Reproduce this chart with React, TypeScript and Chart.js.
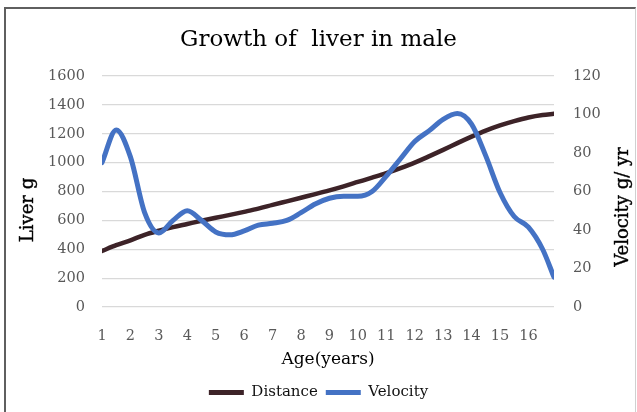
import React, { useEffect, useRef } from "react";
import { Chart, registerables } from "chart.js";

Chart.register(...registerables);

const chartTitle = "Growth of  liver in male";
const xTitle = "Age(years)";
const leftTitle = "Liver g";
const rightTitle = "Velocity g/ yr";
const xTickLabels = [1, 2, 3, 4, 5, 6, 7, 8, 9, 10, 11, 12, 13, 14, 15, 16];
const leftTicks = [0, 200, 400, 600, 800, 1000, 1200, 1400, 1600];
const rightTicks = [0, 20, 40, 60, 80, 100, 120];

const ages = [
  1, 1.5, 2, 2.5, 3, 3.5, 4, 4.5, 5, 5.5, 6, 6.5, 7, 7.5, 8, 8.5, 9, 9.5, 10,
  10.5, 11, 11.5, 12, 12.5, 13, 13.5, 14, 14.5, 15, 15.5, 16, 16.5, 16.9,
];
const distance = [
  388, 428, 462, 500, 528, 553, 575, 597, 618, 638, 659, 681, 707, 732, 757,
  782, 808, 836, 866, 896, 927, 962, 1000, 1043, 1088, 1135, 1180, 1222, 1258,
  1288, 1313, 1330, 1338,
];
const velocity = [
  75, 92, 78, 49, 38.5, 45, 50, 45, 39, 37.5, 39.5, 42.5, 43.5, 45, 49, 53.5,
  56.5, 57.5, 57.5, 60, 68, 77, 86, 91.5, 97.5, 100.5, 95, 78.5, 59.5, 47, 41.5,
  30, 15.5,
];

const BROWN = "#3d2328";
const BLUE = "#4472C4";
const SERIF = '"DejaVu Serif", "Liberation Serif", serif';

const sideTitles = {
  id: "sideTitles",
  afterDraw(chart: any) {
    const { ctx } = chart;
    const left = chart.scales.y;
    const right = chart.scales.y2;
    const cy = chart.height / 2 + 4;
    ctx.save();
    ctx.font = `18px ${SERIF}`;
    ctx.fillStyle = "#000000";
    ctx.strokeStyle = "#000000";
    ctx.lineWidth = 0.4;
    ctx.textAlign = "center";
    ctx.textBaseline = "middle";
    ctx.save();
    ctx.translate(left.left + 28, cy);
    ctx.rotate(-Math.PI / 2);
    ctx.fillText(leftTitle, 0, 0);
    ctx.strokeText(leftTitle, 0, 0);
    ctx.restore();
    ctx.save();
    ctx.translate(right.right - 14, cy - 3);
    ctx.rotate(-Math.PI / 2);
    ctx.fillText(rightTitle, 0, 0);
    ctx.strokeText(rightTitle, 0, 0);
    ctx.restore();
    ctx.restore();
  },
};

export default function App() {
  const ref = useRef<HTMLCanvasElement | null>(null);

  useEffect(() => {
    if (!ref.current) return;
    const chart = new Chart(ref.current, {
      type: "line",
      data: {
        datasets: [
          {
            label: "Distance",
            data: ages.map((a, i) => ({ x: a, y: distance[i] })),
            borderColor: BROWN,
            backgroundColor: BROWN,
            borderWidth: 4.5,
            pointRadius: 0,
            cubicInterpolationMode: "monotone",
            borderCapStyle: "round",
            borderJoinStyle: "round",
            yAxisID: "y",
            order: 2,
          },
          {
            label: "Velocity",
            data: ages.map((a, i) => ({ x: a, y: velocity[i] })),
            borderColor: BLUE,
            backgroundColor: BLUE,
            borderWidth: 5,
            pointRadius: 0,
            cubicInterpolationMode: "monotone",
            borderCapStyle: "round",
            borderJoinStyle: "round",
            yAxisID: "y2",
            order: 1,
          },
        ],
      },
      options: {
        responsive: false,
        animation: false,
        layout: { padding: { left: 0, right: 0, top: 0, bottom: 2 } },
        plugins: {
          tooltip: { enabled: false },
          title: {
            display: true,
            text: chartTitle,
            color: "#000000",
            font: { family: SERIF, size: 23, weight: "normal" },
            padding: { top: 26, bottom: 22.4 },
          },
          legend: {
            position: "bottom",
            labels: {
              boxWidth: 35,
              boxHeight: 5,
              padding: 8,
              color: "#111111",
              font: { family: SERIF, size: 15, weight: "normal" },
              sort: (a: any, b: any) => a.datasetIndex - b.datasetIndex,
              generateLabels: (c: any) =>
                Chart.defaults.plugins.legend.labels
                  .generateLabels(c)
                  .map((it: any) => ({
                    ...it,
                    fillStyle: it.strokeStyle,
                    lineWidth: 0,
                  })),
            },
          },
        },
        scales: {
          x: {
            type: "linear",
            min: ages[0],
            max: ages[ages.length - 1],
            grid: { display: false },
            border: { display: false },
            afterFit: (s: any) => {
              s.height = 70;
            },
            afterBuildTicks: (s: any) => {
              s.ticks = xTickLabels.map((v) => ({ value: v }));
            },
            ticks: {
              autoSkip: false,
              maxRotation: 0,
              padding: 13,
              color: "#595959",
              font: { family: SERIF, size: 14.5 },
              callback: (v: any) => String(v),
            },
            title: {
              display: true,
              text: xTitle,
              color: "#000000",
              font: { family: SERIF, size: 17, weight: "normal" },
              padding: { top: 4, bottom: 7 },
            },
          },
          y: {
            position: "left",
            min: 0,
            max: 1600,
            afterFit: (s: any) => {
              s.width = 102;
            },
            afterBuildTicks: (s: any) => {
              s.ticks = leftTicks.map((v) => ({ value: v }));
            },
            grid: { color: "#d9d9d9", lineWidth: 1.2, drawTicks: false },
            border: { display: false },
            ticks: {
              padding: 17,
              color: "#595959",
              font: { family: SERIF, size: 14.5 },
              callback: (v: any) => String(v),
            },
          },
          y2: {
            position: "right",
            min: 0,
            max: 120,
            afterFit: (s: any) => {
              s.width = 83;
            },
            afterBuildTicks: (s: any) => {
              s.ticks = rightTicks.map((v) => ({ value: v }));
            },
            grid: { display: false, drawTicks: false },
            border: { display: false },
            ticks: {
              padding: 19,
              color: "#595959",
              font: { family: SERIF, size: 14.5 },
              callback: (v: any) => String(v),
            },
          },
        },
      },
      plugins: [sideTitles],
    } as any);
    return () => chart.destroy();
  }, []);

  return (
    <div style={{ position: "relative", width: 637, height: 412, overflow: "hidden" }}>
      <style>{"body{margin:0}"}</style>
      <div
        style={{
          position: "absolute",
          left: 4,
          top: 7,
          width: 629,
          height: 440,
          borderTop: "2px solid #5f5f5f",
          borderLeft: "2px solid #5f5f5f",
          borderRight: "1px solid #d0d0d0",
        }}
      />
      <canvas
        ref={ref}
        width={637}
        height={412}
        style={{ position: "absolute", left: 0, top: 0 }}
      />
    </div>
  );
}
